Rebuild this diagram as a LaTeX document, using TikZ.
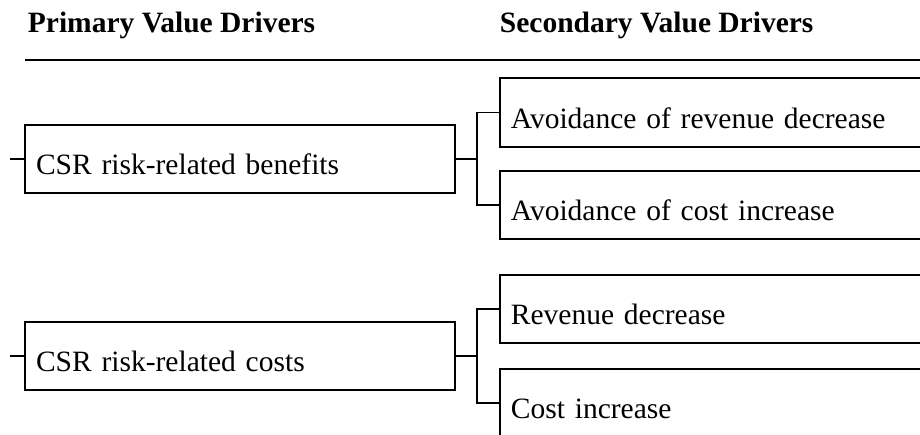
\documentclass[tikz,border=0pt]{standalone}
\usepackage{fontspec}
\setmainfont{Liberation Serif}
\begin{document}
\begin{tikzpicture}[x=1pt,y=1pt,
  line width=1.8pt,
  every node/.style={font=\fontsize{29.5}{34}\selectfont},
  heading/.style={anchor=base west, inner sep=0pt, font=\fontsize{29.5}{34}\selectfont\bfseries},
  primarybox/.style={draw, anchor=center, minimum height=68pt, inner xsep=11pt, inner ysep=0pt,
    text width=408pt, align=left, text height=32pt, text depth=0pt},
  secondarybox/.style={draw, anchor=west, minimum height=68.5pt, inner xsep=11pt, inner ysep=0pt,
    text width=430pt, align=left, text height=32pt, text depth=0pt},
  link/.style={draw, line width=1.8pt}
]
\useasboundingbox (0,0) rectangle (920,435);
\clip (0,0) rectangle (920,435);

% column headings and rule
\node[heading] (h1) at (27,402) {Primary Value Drivers};
\node[heading] (h2) at (499,402) {Secondary Value Drivers};
\coordinate (ruleL) at (25,375);
\coordinate (ruleR) at (920,375);
\draw (ruleL) -- (ruleR);

% primary drivers
\node[primarybox] (p1) at (240,276) {CSR risk-related benefits};
\node[primarybox] (p2) at (240,79) {CSR risk-related costs};

% secondary drivers
\node[secondarybox] (s1) at (499,322.5) {Avoidance of revenue decrease};
\node[secondarybox] (s2) at (499,230) {Avoidance of cost increase};
\node[secondarybox] (s3) at (499,126) {Revenue decrease};
\node[secondarybox] (s4) at (499,32) {Cost increase};

% incoming stubs on the left
\coordinate (in1) at (10,276);
\coordinate (in2) at (10,79);
\draw[link] (in1) -- (p1.west);
\draw[link] (in2) -- (p2.west);

% brackets joining each primary driver to its secondary drivers
\draw[link] (s1.west) -- ++(-22,0) |- (p1.east);
\draw[link] (s2.west) -- ++(-22,0) |- (p1.east);
\draw[link] (s3.west) -- ++(-22,0) |- (p2.east);
\draw[link] (s4.west) -- ++(-22,0) |- (p2.east);
\end{tikzpicture}
\end{document}
